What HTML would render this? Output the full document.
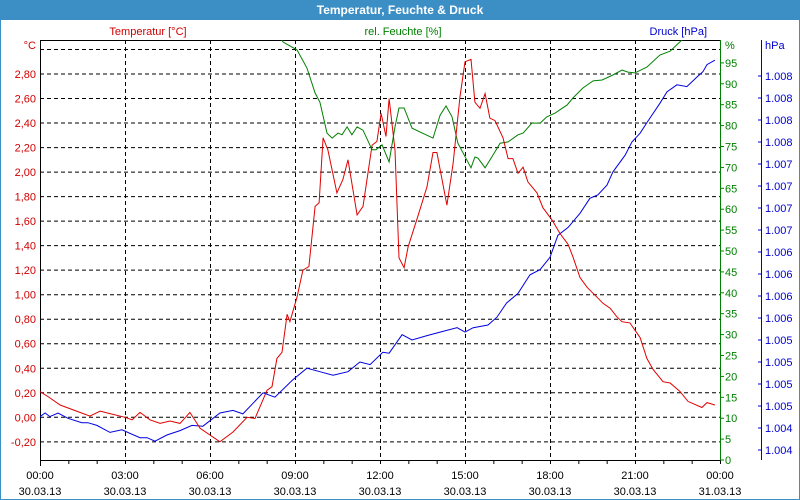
<!DOCTYPE html>
<html><head><meta charset="utf-8"><style>
body{margin:0;width:800px;height:500px;overflow:hidden;background:#fff;font-family:"Liberation Sans",sans-serif}
#win{position:absolute;left:0;top:0;width:798px;height:498px;border:1px solid #3c8fc5;background:#fff}
#title{position:absolute;left:0;top:0;width:800px;height:20px;background:#3c8fc5;color:#fff;font-weight:bold;font-size:12px;line-height:20px;text-align:center}
</style></head><body>
<div id="win"></div>
<div id="title">Temperatur, Feuchte &amp; Druck</div>
<svg id="c" width="800" height="500" style="position:absolute;left:0;top:0"></svg>
<script>
const tempHours=[0,0.28,0.71,1.41,1.76,2.12,2.47,3.00,3.25,3.53,3.88,4.24,4.59,4.94,5.29,5.65,6.35,6.81,7.31,7.59,8.01,8.19,8.36,8.54,8.72,8.82,9.07,9.28,9.49,9.71,9.85,9.99,10.16,10.48,10.69,10.87,11.19,11.40,11.72,11.89,12.04,12.21,12.32,12.53,12.67,12.85,12.99,13.31,13.66,13.87,14.01,14.36,14.58,14.82,15.00,15.21,15.35,15.53,15.71,15.88,16.06,16.34,16.52,16.69,16.87,17.05,17.22,17.54,17.75,18.07,18.35,18.64,18.81,19.06,19.31,19.66,19.87,20.12,20.36,20.54,20.82,21.18,21.42,21.64,21.99,22.24,22.59,22.87,23.36,23.54,23.82];
const tempValues=[0.21,0.17,0.10,0.04,0.01,0.05,0.03,0.00,-0.02,0.04,-0.02,-0.05,-0.03,-0.05,0.04,-0.09,-0.20,-0.12,0.00,-0.01,0.22,0.25,0.48,0.53,0.84,0.78,0.98,1.20,1.23,1.72,1.75,2.28,2.18,1.83,1.94,2.10,1.65,1.72,2.22,2.25,2.48,2.29,2.60,2.18,1.30,1.22,1.39,1.62,1.88,2.16,2.16,1.73,2.07,2.61,2.90,2.92,2.57,2.52,2.64,2.44,2.42,2.28,2.11,2.11,1.99,2.04,1.92,1.83,1.71,1.61,1.50,1.41,1.31,1.14,1.06,0.98,0.93,0.89,0.82,0.78,0.77,0.65,0.48,0.39,0.29,0.28,0.21,0.13,0.08,0.12,0.10];
const humHours=[8.12,8.58,9.07,9.42,9.71,9.88,10.13,10.31,10.52,10.66,10.84,11.01,11.19,11.40,11.72,11.86,12.07,12.32,12.53,12.67,12.85,13.13,13.41,13.87,14.12,14.33,14.54,14.75,15.21,15.35,15.46,15.71,15.99,16.24,16.52,16.87,17.05,17.36,17.65,17.89,18.18,18.60,18.81,19.16,19.52,19.84,20.22,20.54,20.75,21.00,21.42,21.88,22.24,22.66,24.0];
const humValues=[105,100,98.1,93.8,87.8,85.6,78.2,77.0,78.2,77.8,79.7,77.8,79.7,78.9,74.2,74.2,75.4,71.3,79.7,84.2,84.2,79.4,78.5,77.0,82.5,84.7,82.1,75.8,69.9,72.5,72.2,69.9,73.0,75.8,76.1,77.8,78.2,80.6,80.6,82.1,83.0,84.9,86.6,89.0,90.7,90.9,92.1,93.3,92.8,92.6,94.0,96.9,97.8,100.5,105];
const presHours=[0,0.18,0.35,0.64,0.99,1.48,1.69,2.01,2.47,2.89,3.53,3.78,4.06,4.48,4.94,5.36,5.75,6.35,6.81,7.16,7.87,8.29,8.93,9.42,9.88,10.34,10.87,11.29,11.65,12.10,12.32,12.78,13.13,13.66,14.12,14.72,15.00,15.29,15.81,16.13,16.47,16.87,17.29,17.65,18.00,18.28,18.64,19.06,19.41,19.69,20.01,20.22,20.65,20.89,21.18,21.42,21.88,22.13,22.48,22.83,23.19,23.40,23.54,23.82];
const presValues=[1004.63,1004.67,1004.63,1004.67,1004.61,1004.56,1004.56,1004.53,1004.45,1004.48,1004.39,1004.39,1004.35,1004.42,1004.47,1004.53,1004.52,1004.67,1004.70,1004.66,1004.90,1004.85,1005.05,1005.18,1005.14,1005.10,1005.14,1005.25,1005.22,1005.36,1005.35,1005.56,1005.50,1005.55,1005.59,1005.64,1005.59,1005.64,1005.67,1005.76,1005.92,1006.03,1006.24,1006.30,1006.44,1006.69,1006.78,1006.94,1007.11,1007.15,1007.26,1007.41,1007.60,1007.75,1007.85,1007.97,1008.19,1008.32,1008.40,1008.38,1008.49,1008.55,1008.63,1008.68];
const tempTicks=[-0.2,0,0.2,0.4,0.6,0.8,1.0,1.2,1.4,1.6,1.8,2.0,2.2,2.4,2.6,2.8,3.0];
const humTicks=[0,5,10,15,20,25,30,35,40,45,50,55,60,65,70,75,80,85,90,95];
const presTicks=[1004.25,1004.5,1004.75,1005,1005.25,1005.5,1005.75,1006,1006.25,1006.5,1006.75,1007,1007.25,1007.5,1007.75,1008,1008.25,1008.5];
const presTickLabels=["1.004","1.004","1.005","1.005","1.005","1.005","1.006","1.006","1.006","1.006","1.007","1.007","1.007","1.007","1.008","1.008","1.008","1.008"];
const timeTicks=[0,3,6,9,12,15,18,21,24];
const timeLabels=["00:00","03:00","06:00","09:00","12:00","15:00","18:00","21:00","00:00"];
const dateLabels=["30.03.13","30.03.13","30.03.13","30.03.13","30.03.13","30.03.13","30.03.13","30.03.13","31.03.13"];

const L=40,R=720,T=40,B=460;
const xS=h=>L+h*(R-L)/24;
const yT=v=>417.3-v*122.6;
const yH=v=>B-v*4.18;
const yP=v=>450-(v-1004.25)*88;
const svg=document.getElementById('c');
const NS='http://www.w3.org/2000/svg';
function mk(tag,attrs,parent){const e=document.createElementNS(NS,tag);for(const k in attrs)e.setAttribute(k,attrs[k]);(parent||svg).appendChild(e);return e;}
function txt(s,x,y,anchor,color,name){const t=mk('text',{x:x,y:y,'text-anchor':anchor,fill:color,'font-size':'11','font-family':'Liberation Sans, sans-serif'});t.textContent=s;


return t;}
const defs=mk('defs',{});const cp=mk('clipPath',{id:'pc'},defs);mk('rect',{x:L,y:T,width:R-L,height:B-T},cp);

tempTicks.forEach(v=>{const l=mk('line',{x1:L,x2:R,y1:yT(v),y2:yT(v),stroke:'#000','stroke-dasharray':'4,3','stroke-width':1});

});
timeTicks.slice(1,8).forEach(h=>{const l=mk('line',{x1:xS(h)+.5,x2:xS(h)+.5,y1:T,y2:B,stroke:'#000','stroke-dasharray':'4,3'});

});
mk('line',{x1:L,x2:R,y1:T+.5,y2:T+.5,stroke:'#000'});
const la=mk('line',{x1:L+.5,x2:L+.5,y1:T,y2:B+6,stroke:'#000'});


const ba=mk('line',{x1:L,x2:R,y1:B+.5,y2:B+.5,stroke:'#000'});


for(let h=0;h<=24;h++){mk('line',{x1:xS(h)+.5,x2:xS(h)+.5,y1:B,y2:B+4,stroke:'#000'});}
timeTicks.forEach((h,i)=>{txt(timeLabels[i],xS(h),479,'middle','#000','x-tick-time');txt(dateLabels[i],xS(h),495,'middle','#000','x-tick-date');});
tempTicks.slice(0,16).forEach(v=>txt(v.toFixed(2).replace('.',','),36,yT(v)+4,'end','#d00000','temp-tick-label'));
txt('°C',36,49,'end','#d00000','temp-unit');
const ha=mk('line',{x1:R+.5,x2:R+.5,y1:T,y2:B,stroke:'#008000'});


humTicks.forEach(v=>{mk('line',{x1:R,x2:R+4,y1:yH(v),y2:yH(v),stroke:'#008000'});txt(String(v),725,yH(v)+4,'start','#008000','humidity-tick-label');});
txt('%',725,49,'start','#008000','humidity-unit');
const pa=mk('line',{x1:761.5,x2:761.5,y1:T,y2:B,stroke:'#0000d0'});


presTicks.forEach((v,i)=>{mk('line',{x1:758,x2:762,y1:yP(v),y2:yP(v),stroke:'#0000d0'});txt(presTickLabels[i],765,yP(v)+4,'start','#0000d0','pressure-tick-label');});
txt('hPa',765,49,'start','#0000d0','pressure-unit');
txt('Temperatur [°C]',148,35,'middle','#d00000','temp-series-title');
txt('rel. Feuchte [%]',403,35,'middle','#008000','humidity-series-title');
txt('Druck [hPa]',707,35,'end','#0000d0','pressure-series-title');
function line(hs,vs,ys,color,name){const d=hs.map((h,i)=>(i?'L':'M')+xS(h).toFixed(1)+','+ys(vs[i]).toFixed(1)).join('');
const p=mk('path',{d:d,fill:'none',stroke:color,'stroke-width':1,'clip-path':'url(#pc)'});

}
line(presHours,presValues,yP,'#0000e0','pressure-line');
line(humHours,humValues,yH,'#008000','humidity-line');
line(tempHours,tempValues,yT,'#e00000','temperature-line');
</script>
</body></html>
